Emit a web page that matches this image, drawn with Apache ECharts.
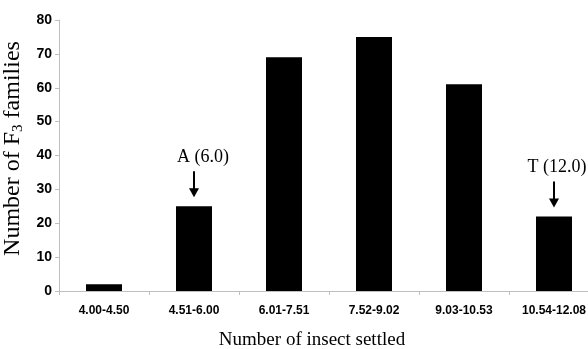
<!DOCTYPE html>
<html>
<head>
<meta charset="utf-8">
<script src="https://cdn.jsdelivr.net/npm/echarts@6/dist/echarts.min.js"></script>
<style>
html,body{margin:0;padding:0;background:#fff;}
#chart{width:588px;height:349px;}
</style>
</head>
<body>
<div id="chart"></div>
<script>
var categories = ['4.00-4.50', '4.51-6.00', '6.01-7.51', '7.52-9.02', '9.03-10.53', '10.54-12.08'];
var familyCounts = [2, 25, 69, 75, 61, 22];
var yTicks = [0, 10, 20, 30, 40, 50, 60, 70, 80];
var annotationIndex = [1, 5];
var annotationLabels = ['A (6.0)', 'T (12.0)'];

var arrowPath = 'path://M4,0 L6,0 L6,17 L10,17 L5,26 L0,17 L4,17 Z';

var chart = echarts.init(document.getElementById('chart'), null, {renderer: 'canvas'});
chart.setOption({
  animation: false,
  backgroundColor: '#ffffff',
  grid: {left: 59, right: -11, top: 20, bottom: 58, containLabel: false, outerBoundsMode: 'none'},
  xAxis: {
    type: 'category',
    data: categories,
    name: 'Number of insect settled',
    nameLocation: 'middle',
    nameGap: 40,
    nameTextStyle: {fontFamily: 'Liberation Serif', fontSize: 19, color: '#000', padding: [0, 34, 0, 0]},
    axisLine: {show: true, lineStyle: {color: '#bfbfbf', width: 1}},
    axisTick: {show: true, alignWithLabel: false, length: 4, lineStyle: {color: '#bfbfbf'}},
    axisLabel: {fontFamily: 'Liberation Sans', fontWeight: 'bold', fontSize: 12, color: '#000', margin: 14, interval: 0}
  },
  yAxis: {
    type: 'value',
    min: yTicks[0],
    max: yTicks[yTicks.length - 1],
    interval: yTicks[1] - yTicks[0],
    name: '{n|Number of F}{s|3}{n| families}',
    nameLocation: 'middle',
    nameGap: 31,
    nameRotate: 90,
    nameTextStyle: {
      padding: [0, 0, 0, 14],
      rich: {
        n: {fontFamily: 'Liberation Serif', fontSize: 24, color: '#000'},
        s: {fontFamily: 'Liberation Serif', fontSize: 15, color: '#000', verticalAlign: 'bottom', padding: [10, 0, 0, 0]}
      }
    },
    splitLine: {show: false},
    axisLine: {show: true, lineStyle: {color: '#bfbfbf', width: 1}},
    axisTick: {show: true, length: 4, lineStyle: {color: '#bfbfbf'}},
    axisLabel: {fontFamily: 'Liberation Sans', fontWeight: 'bold', fontSize: 14, color: '#000', margin: 7}
  },
  series: [{
    type: 'bar',
    data: familyCounts,
    barWidth: '40%',
    itemStyle: {color: '#000000'},
    markPoint: {
      symbol: arrowPath,
      symbolSize: [10, 26],
      symbolOffset: [0, -22],
      itemStyle: {color: '#000'},
      label: {show: true, position: 'top', distance: 5, fontFamily: 'Liberation Serif', fontSize: 18, color: '#000'},
      data: annotationIndex.map(function (idx, i) {
        return {
          coord: [idx, familyCounts[idx]],
          value: annotationLabels[i],
          label: {formatter: annotationLabels[i], offset: [i === 0 ? 9 : 3, 0]}
        };
      })
    }
  }]
});
</script>
</body>
</html>
